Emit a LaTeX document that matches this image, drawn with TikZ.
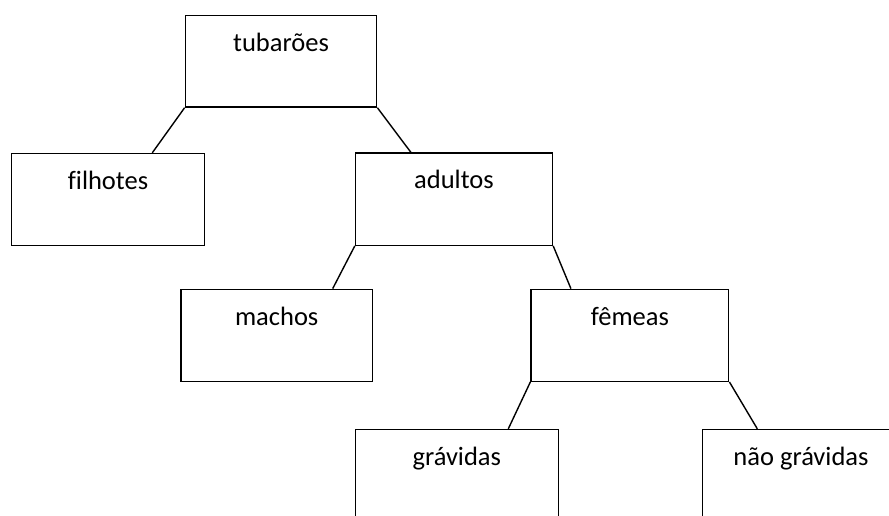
\documentclass[tikz,border=0pt]{standalone}
\usepackage{fontspec}
\setmainfont{Carlito}[Ligatures={NoCommon}]
\usetikzlibrary{calc}
\begin{document}
\begin{tikzpicture}[x=1pt,y=-1pt,
  box/.style={draw=black, line width=1.4pt, rectangle, minimum width=#1, minimum height=92pt, inner sep=0pt},
  lbl/.style={anchor=base, yshift=-36.5pt, inner sep=0pt, font=\fontsize{26.5}{31}\selectfont},
  link/.style={draw=black, line width=1.4pt}]
\useasboundingbox (0,0) rectangle (889,516);
\clip (0,0) rectangle (889,516);
\node[box=191.4pt, minimum height=91.7pt, label={[lbl]north:tubarões}] (tub) at (281,61.2) {};
\node[box=192.6pt, label={[lbl]north:filhotes}] (fil) at (108,199.5) {};
\node[box=197pt, label={[lbl]north:adultos}] (adu) at (454,199.2) {};
\node[box=191.3pt, label={[lbl]north:machos}] (mac) at (276.7,335.3) {};
\node[box=197.7pt, label={[lbl]north:fêmeas}] (fem) at (629.9,335.3) {};
\node[box=203pt, label={[lbl]north:grávidas}] (gra) at (456.8,475.5) {};
\node[box=197pt, label={[lbl]north:não grávidas}] (nao) at (801,475.5) {};
\draw[link] (tub.south west) -- ($(fil.north)+(44.3,0)$);
\draw[link] (tub.south east) -- ($(adu.north)+(-43,0)$);
\draw[link] (adu.south west) -- ($(mac.north)+(56,0)$);
\draw[link] (adu.south east) -- ($(fem.north)+(-59,0)$);
\draw[link] (fem.south west) -- ($(gra.north)+(51.5,0)$);
\draw[link] (fem.south east) -- ($(nao.north)+(-43.7,0)$);
\end{tikzpicture}
\end{document}
